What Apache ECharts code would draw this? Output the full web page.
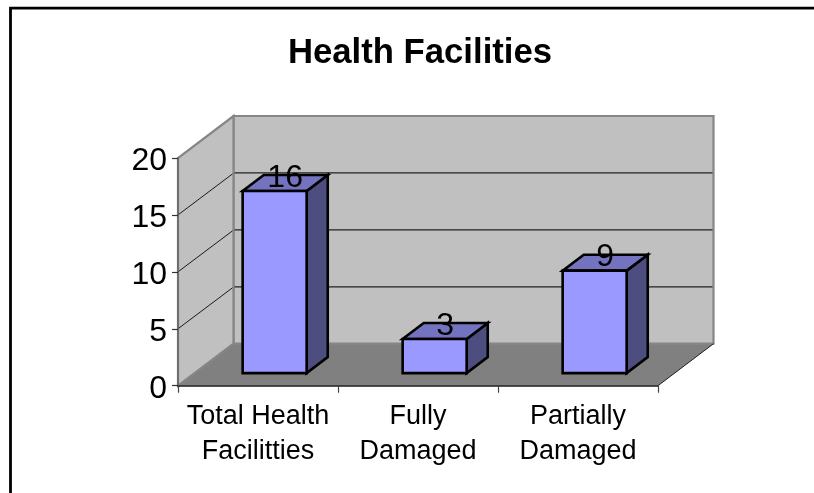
<!DOCTYPE html>
<html>
<head>
<meta charset="utf-8">
<title>Health Facilities</title>
<script src="https://cdn.jsdelivr.net/npm/echarts@6/dist/echarts.min.js"></script>
<style>
  html, body { margin: 0; padding: 0; background: #fff; }
  #chart { width: 814px; height: 493px; }
</style>
</head>
<body>
<div id="chart"></div>
<script>
const titleText = 'Health Facilities'
const categories = ['Total Health\nFacilitties', 'Fully\nDamaged', 'Partially\nDamaged']
const facilities = [16, 3, 9]
const yTicks = [5, 10, 15]
const yMax = 20

// fake 3d: how far the back wall sits from the front plane, in px
const DEPTH_X = 55.5
const DEPTH_Y = 42
// bars stand on this part of the floor depth
const BAR_DEPTH_START = 0.3
const BAR_DEPTH_END = 0.68
const BAR_WIDTH = 0.4

const FONT = '"Liberation Sans", Arial, sans-serif'

function shift(p, depth) {
  return [p[0] + DEPTH_X * depth, p[1] - DEPTH_Y * depth]
}

function poly(points, fill, stroke, lineWidth) {
  return {
    type: 'polygon',
    shape: { points },
    style: { fill, stroke: stroke || 'none', lineWidth: lineWidth || 0, lineJoin: 'miter' },
  }
}

// walls and floor, corners come from the axis scales
function renderRoom(params, api) {
  const band = api.size([1, 0])[0]
  const x0 = api.coord([0, 0])[0] - band / 2
  const x1 = api.coord([categories.length - 1, 0])[0] + band / 2
  const y0 = api.coord([0, 0])[1]
  const yTop = api.coord([0, yMax])[1]
  const bl = [x0, y0], br = [x1, y0], tl = [x0, yTop]
  const wallStroke = '#868686'
  return {
    type: 'group',
    children: [
      poly([bl, br, shift(br, 1), shift(bl, 1)], '#808080'),
      poly([shift(bl, 1), shift(br, 1), [x1 + DEPTH_X, yTop - DEPTH_Y], shift(tl, 1)], '#c0c0c0', wallStroke, 2.2),
      poly([bl, shift(bl, 1), shift(tl, 1), tl], '#c0c0c0', wallStroke, 2.2),
      {
        type: 'line',
        shape: { x1: br[0], y1: br[1], x2: br[0] + DEPTH_X, y2: br[1] - DEPTH_Y },
        style: { stroke: '#222', lineWidth: 1 },
      },
    ],
  }
}

function renderGridLine(params, api) {
  const band = api.size([1, 0])[0]
  const v = api.value(1)
  const x0 = api.coord([0, v])[0] - band / 2
  const x1 = api.coord([categories.length - 1, v])[0] + band / 2
  const y = api.coord([0, v])[1]
  const back = shift([x0, y], 1)
  return {
    type: 'group',
    children: [
      { type: 'line', shape: { x1: x0, y1: y, x2: back[0] - 1, y2: back[1] + 1 }, style: { stroke: '#1a1a1a', lineWidth: 1 } },
      { type: 'line', shape: { x1: back[0] + 1, y1: back[1], x2: x1 + DEPTH_X - 1, y2: back[1] }, style: { stroke: '#222', lineWidth: 1.2 } },
    ],
  }
}

function renderBar(params, api) {
  const idx = api.value(0)
  const band = api.size([1, 0])[0]
  const base = api.coord([idx, 0])
  const top = api.coord([idx, api.value(1)])
  const half = band * BAR_WIDTH / 2
  const d0 = BAR_DEPTH_START, d1 = BAR_DEPTH_END

  const fbl = shift([base[0] - half, base[1]], d0)
  const fbr = shift([base[0] + half, base[1]], d0)
  const ftl = shift([base[0] - half, top[1]], d0)
  const ftr = shift([base[0] + half, top[1]], d0)
  const bbr = shift([base[0] + half, base[1]], d1)
  const btl = shift([base[0] - half, top[1]], d1)
  const btr = shift([base[0] + half, top[1]], d1)

  return {
    type: 'group',
    children: [
      poly([ftr, fbr, bbr, btr], '#4d4d80', '#000', 2.6),
      poly([ftl, ftr, btr, btl], '#7373bf', '#000', 2.6),
      poly([ftl, ftr, fbr, fbl], '#9999ff', '#000', 2.6),
      {
        type: 'text',
        style: {
          text: String(api.value(1)),
          x: (ftl[0] + ftr[0]) / 2 + 10.5,
          y: ftl[1] - 13,
          align: 'center',
          verticalAlign: 'middle',
          font: '32px ' + FONT,
          fill: '#000',
        },
      },
    ],
  }
}

const chart = echarts.init(document.getElementById('chart'), null, { renderer: 'canvas' })

chart.setOption({
  animation: false,
  backgroundColor: '#fff',
  title: {
    text: titleText,
    left: 415,
    textAlign: 'center',
    top: 31,
    textStyle: { fontFamily: FONT, fontSize: 34.7, fontWeight: 'bold', color: '#000' },
  },
  graphic: [
    {
      type: 'polyline',
      silent: true,
      shape: { points: [[10.5, 493], [10.5, 8.2], [814, 8.2]] },
      style: { fill: 'none', stroke: '#000', lineWidth: 2.8 },
    },
  ],
  grid: { left: 178, top: 158, width: 480, height: 227.7 },
  xAxis: {
    type: 'category',
    data: categories,
    z: 5,
    axisLine: { lineStyle: { color: '#1a1a1a', width: 1.5 } },
    axisTick: { show: true, alignWithLabel: false, length: 7, lineStyle: { color: '#444', width: 1.2 } },
    axisLabel: { fontFamily: FONT, fontSize: 27, lineHeight: 35, color: '#000', margin: 13, interval: 0 },
    splitLine: { show: false },
  },
  yAxis: {
    type: 'value',
    min: 0,
    max: yMax,
    interval: 5,
    z: 5,
    axisLine: { show: true, lineStyle: { color: '#666', width: 1.5 } },
    axisTick: { show: true, length: 6, lineStyle: { color: '#333', width: 1.2 } },
    // labels in the reference sit a little below their ticks
    axisLabel: { fontFamily: FONT, fontSize: 32, color: '#000', margin: 11, verticalAlign: 'top', lineHeight: 6 },
    splitLine: { show: false },
  },
  series: [
    { type: 'custom', z: 1, silent: true, data: [[0, 0]], renderItem: renderRoom },
    { type: 'custom', z: 2, silent: true, data: yTicks.map((t) => [0, t]), renderItem: renderGridLine },
    { type: 'custom', z: 3, data: facilities.map((v, i) => [i, v]), renderItem: renderBar },
  ],
})
</script>
</body>
</html>
